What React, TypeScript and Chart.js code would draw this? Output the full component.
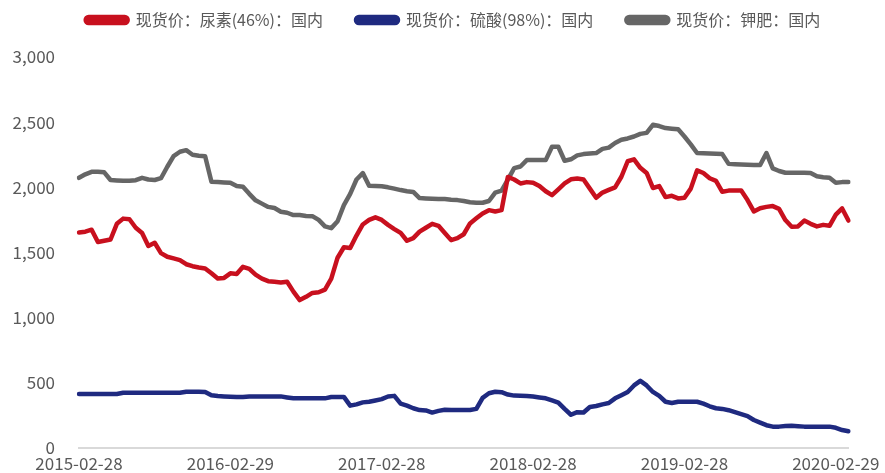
import { useEffect, useRef } from 'react';
import { Chart, registerables } from 'chart.js';

Chart.register(...registerables);

// Half-monthly observation dates (categories)
const dates: string[] = [
  '2015-02-28',
  '2015-03-15', '2015-03-31', '2015-04-15', '2015-04-30', '2015-05-15', '2015-05-31', '2015-06-15', '2015-06-30', '2015-07-15', '2015-07-31', '2015-08-15', '2015-08-31',
  '2015-09-15', '2015-09-30', '2015-10-15', '2015-10-31', '2015-11-15', '2015-11-30', '2015-12-15', '2015-12-31', '2016-01-15', '2016-01-31', '2016-02-15', '2016-02-29',
  '2016-03-15', '2016-03-31', '2016-04-15', '2016-04-30', '2016-05-15', '2016-05-31', '2016-06-15', '2016-06-30', '2016-07-15', '2016-07-31', '2016-08-15', '2016-08-31',
  '2016-09-15', '2016-09-30', '2016-10-15', '2016-10-31', '2016-11-15', '2016-11-30', '2016-12-15', '2016-12-31', '2017-01-15', '2017-01-31', '2017-02-15', '2017-02-28',
  '2017-03-15', '2017-03-31', '2017-04-15', '2017-04-30', '2017-05-15', '2017-05-31', '2017-06-15', '2017-06-30', '2017-07-15', '2017-07-31', '2017-08-15', '2017-08-31',
  '2017-09-15', '2017-09-30', '2017-10-15', '2017-10-31', '2017-11-15', '2017-11-30', '2017-12-15', '2017-12-31', '2018-01-15', '2018-01-31', '2018-02-15', '2018-02-28',
  '2018-03-15', '2018-03-31', '2018-04-15', '2018-04-30', '2018-05-15', '2018-05-31', '2018-06-15', '2018-06-30', '2018-07-15', '2018-07-31', '2018-08-15', '2018-08-31',
  '2018-09-15', '2018-09-30', '2018-10-15', '2018-10-31', '2018-11-15', '2018-11-30', '2018-12-15', '2018-12-31', '2019-01-15', '2019-01-31', '2019-02-15', '2019-02-28',
  '2019-03-15', '2019-03-31', '2019-04-15', '2019-04-30', '2019-05-15', '2019-05-31', '2019-06-15', '2019-06-30', '2019-07-15', '2019-07-31', '2019-08-15', '2019-08-31',
  '2019-09-15', '2019-09-30', '2019-10-15', '2019-10-31', '2019-11-15', '2019-11-30', '2019-12-15', '2019-12-31', '2020-01-15', '2020-01-31', '2020-02-15', '2020-02-29',
  '2020-03-15', '2020-03-31',
];

const tickDates: string[] = ['2015-02-28', '2016-02-29', '2017-02-28', '2018-02-28', '2019-02-28', '2020-02-29'];

const seriesNames: string[] = ['现货价：尿素(46%)：国内', '现货价：硫酸(98%)：国内', '现货价：钾肥：国内'];

const urea: number[] = [
  1654, 1660, 1675, 1580, 1590, 1600, 1720, 1760, 1755, 1690, 1650, 1550, 1575, 1495, 1467, 1455, 1442, 1410, 1395, 1385, 1378, 1340, 1300, 1305, 1340,
  1335, 1390, 1375, 1330, 1300, 1280, 1275, 1270, 1275, 1200, 1135, 1160, 1190, 1195, 1215, 1300, 1460, 1540, 1535, 1630, 1715, 1750, 1770, 1750,
  1712, 1680, 1650, 1590, 1610, 1660, 1690, 1720, 1705, 1650, 1595, 1610, 1640, 1723, 1762, 1800, 1825, 1815, 1825, 2080, 2060, 2030, 2040, 2035,
  2010, 1970, 1940, 1985, 2030, 2062, 2068, 2060, 1990, 1920, 1960, 1980, 2000, 2081, 2200, 2215, 2150, 2110, 1995, 2010, 1925, 1935, 1915, 1920,
  1990, 2130, 2110, 2070, 2050, 1966, 1975, 1975, 1975, 1902, 1815, 1840, 1850, 1856, 1835, 1749, 1697, 1700, 1745, 1720, 1700, 1712, 1705, 1790,
  1838, 1745,
];

const sulfuricAcid: number[] = [
  414, 414, 414, 414, 414, 414, 414, 424, 424, 424, 424, 424, 424, 424, 424, 424, 424, 432, 432, 432, 430, 405, 399, 396, 394,
  392, 392, 396, 396, 396, 396, 396, 396, 388, 381, 381, 381, 381, 381, 381, 391, 392, 392, 325, 335, 350, 355, 365, 375,
  395, 400, 340, 325, 305, 291, 288, 272, 285, 294, 291, 291, 291, 291, 300, 385, 420, 432, 428, 410, 402, 400, 399, 395,
  388, 381, 365, 348, 300, 255, 275, 272, 315, 322, 335, 345, 381, 405, 430, 480, 515, 480, 430, 400, 355, 345, 355, 355,
  355, 355, 340, 320, 305, 300, 290, 275, 260, 245, 215, 195, 175, 164, 164, 168, 171, 167, 164, 164, 164, 164, 164, 155,
  138, 128,
];

const potash: number[] = [
  2073, 2100, 2119, 2119, 2115, 2056, 2053, 2050, 2050, 2055, 2073, 2060, 2056, 2070, 2158, 2240, 2273, 2285, 2250, 2242, 2238, 2043, 2040, 2038, 2035,
  2010, 2005, 1950, 1900, 1875, 1850, 1841, 1813, 1805, 1787, 1787, 1780, 1779, 1750, 1700, 1687, 1740, 1864, 1950, 2060, 2109, 2012, 2010, 2008,
  2000, 1990, 1979, 1970, 1965, 1918, 1915, 1912, 1910, 1910, 1905, 1902, 1895, 1885, 1882, 1882, 1895, 1960, 1975, 2060, 2147, 2160, 2209, 2209,
  2209, 2209, 2311, 2311, 2204, 2215, 2245, 2255, 2260, 2263, 2295, 2305, 2340, 2365, 2375, 2390, 2410, 2418, 2480, 2470, 2455, 2450, 2445, 2390,
  2330, 2263, 2262, 2260, 2258, 2255, 2180, 2178, 2176, 2174, 2172, 2171, 2263, 2145, 2125, 2112, 2112, 2112, 2112, 2110, 2085, 2078, 2073, 2035,
  2040, 2040,
];

const colors = ['#c8101e', '#1f2a80', '#666666'];
const FONT = "'Noto Sans CJK SC', 'Noto Sans', sans-serif";
const TEXT = '#595959';

export default function App() {
  const ref = useRef<HTMLCanvasElement>(null);

  useEffect(() => {
    const legendTweak = {
      id: 'legendTweak',
      beforeInit(chart: any) {
        const legend = chart.legend;
        const orig = legend.fit;
        legend.fit = function () {
          orig.call(this);
          this.height = 55;
        };
      },
      afterLayout(chart: any) {
        const l = chart.legend;
        l.top = -21;
        l.left += 27;
        l.right += 27;
      },
    };

    const series = [urea, sulfuricAcid, potash];
    const chart = new Chart(ref.current!, {
      type: 'line',
      data: {
        labels: dates,
        datasets: series.map((d, i) => ({
          label: seriesNames[i],
          data: d,
          borderColor: colors[i],
          backgroundColor: colors[i],
          borderWidth: 4.5,
          pointRadius: 0,
          tension: 0,
          borderJoinStyle: 'round' as const,
          borderCapStyle: 'round' as const,
        })),
      },
      options: {
        responsive: false,
        animation: false,
        layout: { padding: { left: 0, right: 33, top: 2, bottom: 0 } },
        plugins: {
          legend: {
            position: 'top',
            labels: {
              boxWidth: 42,
              boxHeight: 6,
              useBorderRadius: true,
              borderRadius: 3,
              padding: 33,
              color: TEXT,
              font: { size: 16, family: FONT },
            },
          },
          tooltip: { enabled: false },
        },
        scales: {
          x: {
            type: 'category',
            offset: false,
            grid: { display: false, drawTicks: false },
            border: { display: true, color: '#d9d9d9', width: 2 },
            afterBuildTicks(scale: any) {
              scale.ticks = scale.ticks.filter((t: any) => tickDates.includes(dates[t.value]));
            },
            afterFit(scale: any) {
              scale.height = 25;
            },
            ticks: {
              autoSkip: false,
              maxRotation: 0,
              padding: 5,
              color: TEXT,
              font: { size: 17, family: FONT },
            },
          },
          y: {
            min: 0,
            max: 3000,
            grid: { display: false, drawTicks: false },
            border: { display: false },
            afterFit(scale: any) {
              scale.width = 79;
              scale.paddingTop = 0;
              scale.paddingBottom = 0;
            },
            ticks: {
              stepSize: 500,
              padding: 24,
              color: TEXT,
              font: { size: 17, family: FONT },
              callback: (v: any) => Number(v).toLocaleString('en-US'),
            },
          },
        },
      },
      plugins: [legendTweak],
    });
    return () => chart.destroy();
  }, []);

  return (
    <div style={{ position: 'fixed', left: 0, top: 0, width: 885, height: 473, background: '#fff' }}>
      <canvas ref={ref} width={885} height={473} style={{ display: 'block' }} />
    </div>
  );
}
